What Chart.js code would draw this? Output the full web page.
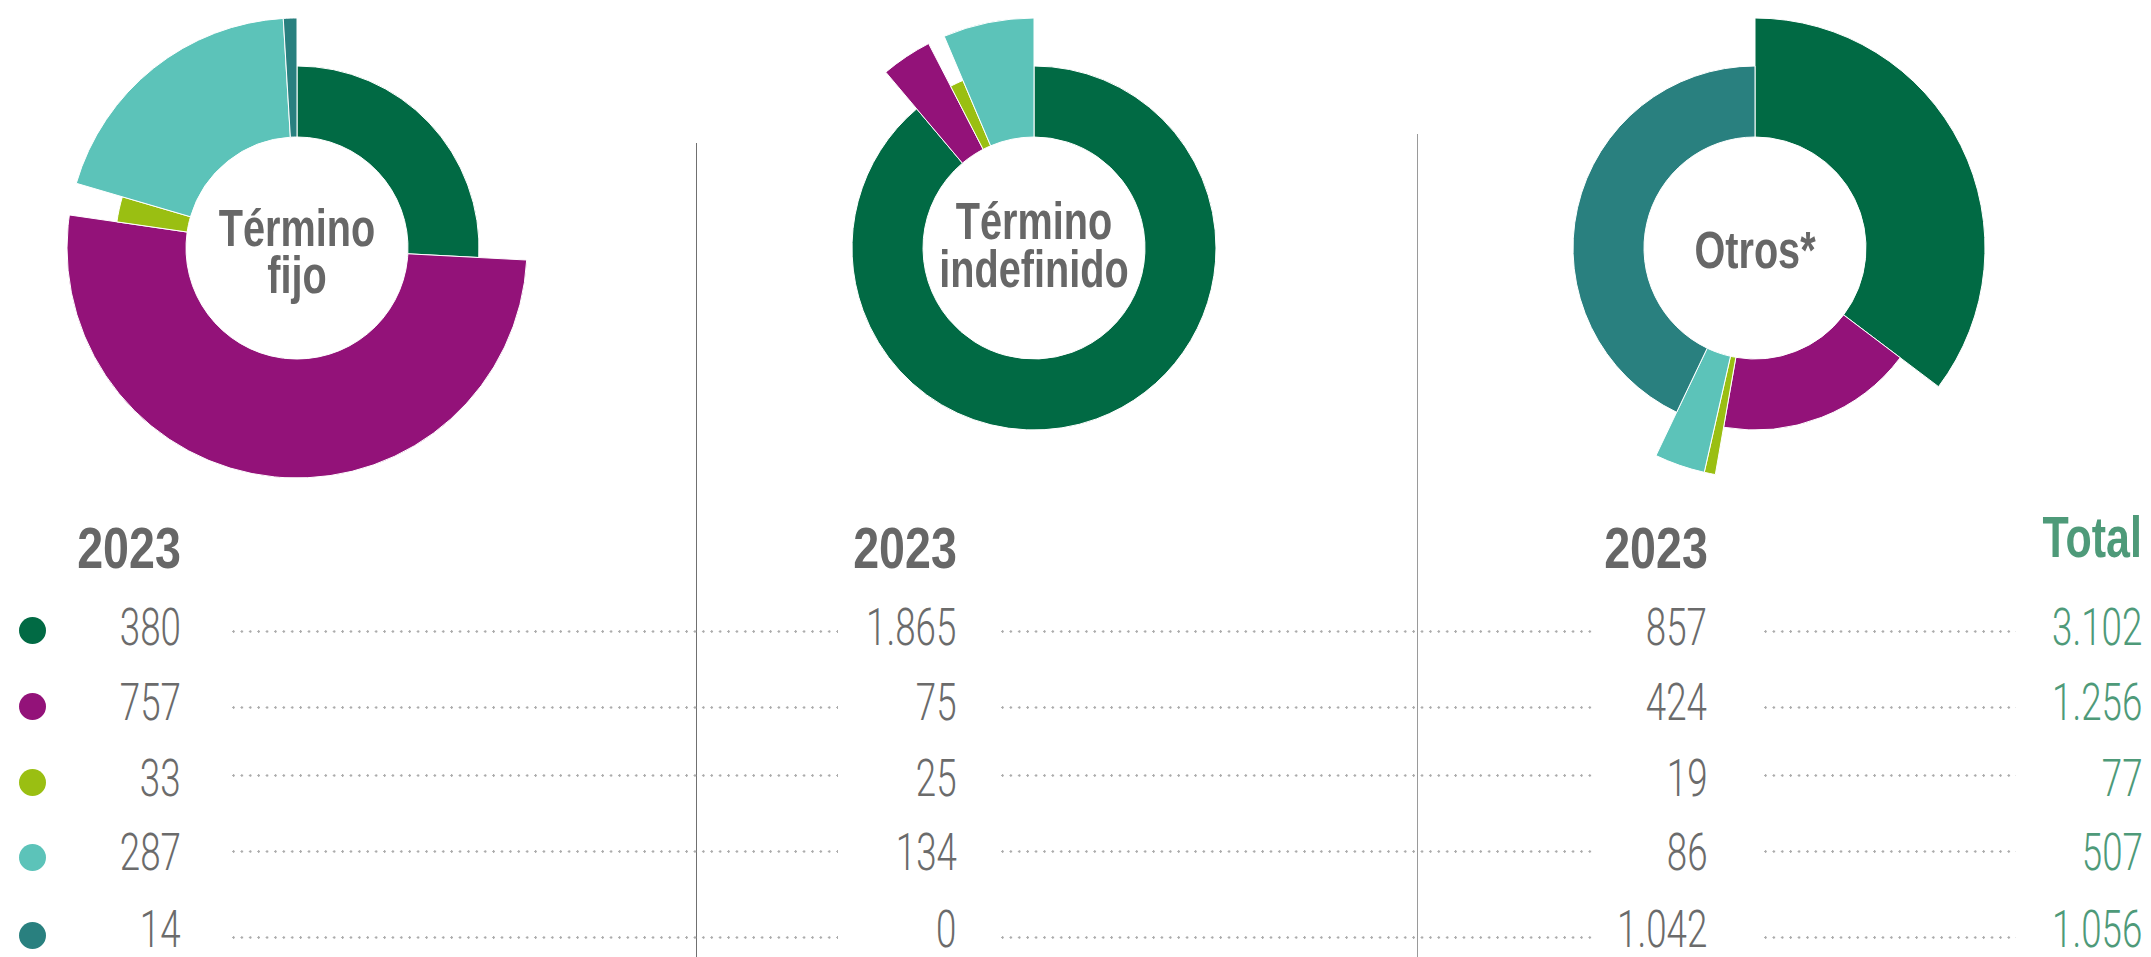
<!DOCTYPE html>
<html lang="es">
<head>
<meta charset="utf-8">
<script src="https://cdn.jsdelivr.net/npm/chart.js@4.4.1/dist/chart.umd.min.js"></script>
<style>
  html, body { margin: 0; padding: 0; background: #fff; }
  #page { position: relative; width: 2151px; height: 957px; overflow: hidden; background: #fff; }
  canvas { position: absolute; }
  .txt { position: absolute; white-space: nowrap; line-height: 1; }
  .bl { display: inline-block; width: 0; height: 0; vertical-align: baseline; }
  .num { font-family: Roboto, "Liberation Sans", sans-serif; font-weight: 300; font-size: 51px; color: #6b6b6b; transform-origin: 100% 0; transform: scaleX(0.72); }
  .num.total { color: #4e9a79; }
  .hdr { font-family: "Liberation Sans", Arial, sans-serif; font-weight: 700; font-size: 57px; color: #676767; transform-origin: 100% 0; transform: scaleX(0.817); }
  .hdr.total { color: #4e9a79; transform: scaleX(0.754); }
  .title { font-family: "Liberation Sans", Arial, sans-serif; font-weight: 700; font-size: 51px; color: #676767; text-align: center; transform-origin: 50% 0; transform: scaleX(0.777); }
  .dot { position: absolute; width: 27px; height: 27px; border-radius: 50%; }
  .dots { position: absolute; height: 3px; background: radial-gradient(circle at 1.5px 1.5px, #ababab 1px, rgba(171,171,171,0) 1.4px) 0 0 / 8.4px 3px repeat-x; }
  .vline { position: absolute; bottom: 0; }
</style>
</head>
<body>
<div id="page"></div>
<script>
// datos
const categories = ['Categoría 1', 'Categoría 2', 'Categoría 3', 'Categoría 4', 'Categoría 5'];
const terminoFijo = [380, 757, 33, 287, 14];
const terminoIndefinido = [1865, 75, 25, 134, 0];
const otros = [857, 424, 19, 86, 1042];
const totales = [3102, 1256, 77, 507, 1056];
const yearLabel = '2023';
const totalLabel = 'Total';
const chartTitles = [['Término', 'fijo'], ['Término', 'indefinido'], ['Otros*']];

// estilo
const colors = ['#016a44', '#931279', '#9abf12', '#5cc3b9', '#29807f'];
const INNER_R = 111;
const CY = 248;
const PAGE_W = 2151;
const page = document.getElementById('page');

function fmt(n) {
  return String(n).replace(/\B(?=(\d{3})+(?!\d))/g, '.');
}

// radio exterior distinto por sector
const variableRadius = {
  id: 'variableRadius',
  afterDatasetsUpdate(chart) {
    const ds = chart.data.datasets[0];
    chart.getDatasetMeta(0).data.forEach((arc, i) => {
      arc.innerRadius = INNER_R;
      arc.outerRadius = ds.outerRadii[i];
    });
  }
};

const donuts = [
  { cx: 296.5, values: terminoFijo, radii: [182, 230, 182, 230, 230], title: chartTitles[0], base: [246, 293.3] },
  { cx: 1033.8, values: terminoIndefinido, radii: [182, 230, 182, 230, 230], title: chartTitles[1], base: [239.3, 286.7] },
  { cx: 1754.5, values: otros, radii: [230, 182, 230, 230, 182], title: chartTitles[2], base: [267.7] }
];

donuts.forEach(d => {
  const cv = document.createElement('canvas');
  cv.width = 480;
  cv.height = 480;
  cv.style.left = (d.cx - 240) + 'px';
  cv.style.top = (CY - 240) + 'px';
  page.appendChild(cv);
  new Chart(cv.getContext('2d'), {
    type: 'doughnut',
    data: {
      labels: categories,
      datasets: [{
        data: d.values,
        outerRadii: d.radii,
        backgroundColor: colors,
        borderColor: '#ffffff',
        borderWidth: 1
      }]
    },
    options: {
      responsive: false,
      animation: false,
      events: [],
      cutout: INNER_R,
      plugins: { legend: { display: false }, tooltip: { enabled: false } }
    },
    plugins: [variableRadius]
  });
});

function addText(str, cls, opts) {
  const el = document.createElement('div');
  el.className = 'txt ' + cls;
  el.appendChild(document.createTextNode(str));
  const mark = document.createElement('span');
  mark.className = 'bl';
  el.appendChild(mark);
  el.style.top = '0px';
  if (opts.right !== undefined) el.style.right = (PAGE_W - opts.right) + 'px';
  if (opts.center !== undefined) {
    el.style.left = (opts.center - 300) + 'px';
    el.style.width = '600px';
  }
  page.appendChild(el);
  el.style.top = (opts.baseline - mark.offsetTop) + 'px';
  return el;
}

// títulos dentro de los anillos
donuts.forEach(d => {
  d.title.forEach((t, k) => addText(t, 'title', { center: d.cx, baseline: d.base[k] }));
});

// líneas verticales
[[695.5, 143, 1, '#707070'], [1416.5, 134, 1.5, '#9a9a9a']].forEach(v => {
  const el = document.createElement('div');
  el.className = 'vline';
  el.style.left = v[0] + 'px';
  el.style.top = v[1] + 'px';
  el.style.width = v[2] + 'px';
  el.style.background = v[3];
  page.appendChild(el);
});

// tabla
const rowBase = [645, 719.5, 795.5, 870.3, 947];
const dotY = [630, 706, 782.3, 857.3, 935];
const lineY = [631.7, 707.7, 775.3, 851.3, 937.7];
const colRight = [181, 956.7, 1707.3];
const totalRight = 2142.5;
const segments = [[231.7, 838.3], [1001, 1591.7], [1764.3, 2016]];
const columns = [terminoFijo, terminoIndefinido, otros];

colRight.forEach(r => addText(yearLabel, 'hdr', { right: r, baseline: 568.3 }));
addText(totalLabel, 'hdr total', { right: 2141.7, baseline: 556.7 });

categories.forEach((c, i) => {
  const dot = document.createElement('div');
  dot.className = 'dot';
  dot.style.left = (32.3 - 13.5) + 'px';
  dot.style.top = (dotY[i] - 13.5) + 'px';
  dot.style.background = colors[i];
  dot.title = c;
  page.appendChild(dot);

  segments.forEach(s => {
    const ln = document.createElement('div');
    ln.className = 'dots';
    ln.style.left = s[0] + 'px';
    ln.style.width = (s[1] - s[0]) + 'px';
    ln.style.top = (lineY[i] - 1.5) + 'px';
    page.appendChild(ln);
  });

  columns.forEach((col, j) => addText(fmt(col[i]), 'num', { right: colRight[j], baseline: rowBase[i] }));
  addText(fmt(totales[i]), 'num total', { right: totalRight, baseline: rowBase[i] });
});
</script>
</body>
</html>
